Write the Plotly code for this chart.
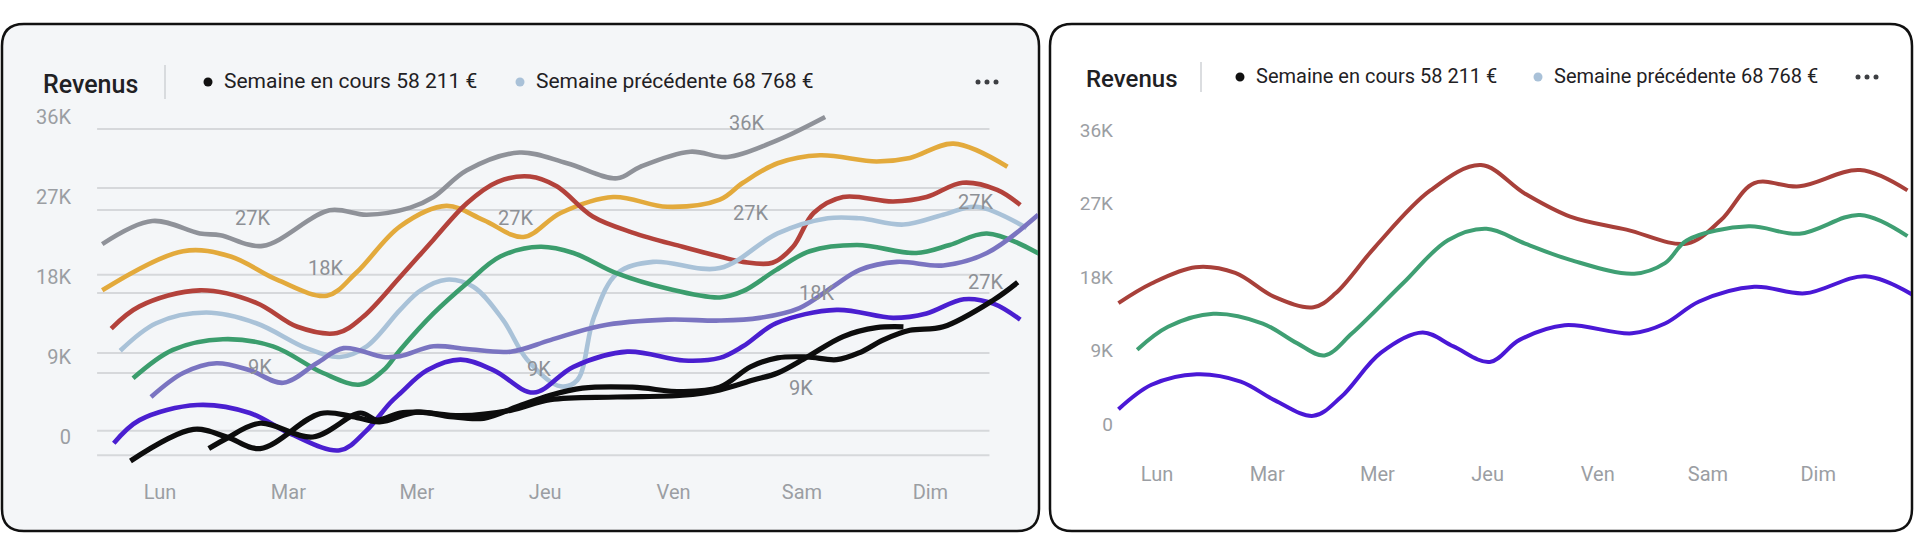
import plotly.graph_objects as go

W, H = 1915, 544

# ---------------- data ----------------
DAYS = ["Lun", "Mar", "Mer", "Jeu", "Ven", "Sam", "Dim"]
DAY_POS = [0, 1, 2, 3, 4, 5, 6]
Y_TICK_VALUES = [0, 9, 18, 27, 36]            # thousands of €
Y_TICK_LABELS = ["0", "9K", "18K", "27K", "36K"]

TITLE = "Revenus"
LEGEND_CURRENT = "Semaine en cours 58 211 €"
LEGEND_PREVIOUS = "Semaine précédente 68 768 €"

# Left panel (x = day position, 0 = Lun ; y = revenue in K€)
L_GRAY_X = [-0.45, -0.06, 0.31, 0.47, 0.80, 1.32, 1.61, 1.95, 2.13, 2.39, 2.80, 3.17, 3.56, 3.74, 4.13, 4.42, 4.81, 5.18]
L_GRAY_Y = [21.7, 24.3, 22.9, 22.7, 21.5, 25.5, 25.0, 25.8, 27.0, 30.0, 32.0, 30.8, 29.1, 30.4, 32.1, 31.5, 33.4, 36.0]

L_GOLD_X = [-0.45, 0.18, 0.55, 0.91, 1.30, 1.53, 1.87, 2.23, 2.52, 2.83, 3.12, 3.53, 3.95, 4.36, 4.54, 4.81, 5.14, 5.58, 5.84, 6.18, 6.60]
L_GOLD_Y = [16.5, 20.9, 20.3, 17.7, 15.9, 18.5, 23.7, 26.0, 24.4, 22.5, 25.2, 27.0, 25.9, 26.7, 28.6, 30.8, 31.7, 31.0, 31.4, 33.0, 30.4]

L_RED_X = [-0.38, -0.16, 0.31, 0.75, 1.07, 1.38, 1.58, 1.87, 2.13, 2.39, 2.63, 2.88, 3.09, 3.37, 3.68, 4.07, 4.36, 4.54, 4.77, 4.93, 5.09, 5.32, 5.71, 5.97, 6.25, 6.52, 6.70]
L_RED_Y = [12.2, 14.7, 16.5, 15.1, 12.4, 11.7, 13.5, 18.0, 22.2, 26.3, 28.7, 29.3, 28.2, 24.8, 23.0, 21.4, 20.3, 19.7, 19.6, 21.4, 25.2, 27.0, 26.5, 27.0, 28.6, 27.8, 26.1]

L_LIGHTBLUE_X = [-0.31, -0.03, 0.36, 0.75, 1.14, 1.40, 1.61, 1.87, 2.03, 2.23, 2.44, 2.67, 2.86, 3.12, 3.25, 3.38, 3.56, 3.84, 4.36, 4.81, 5.20, 5.45, 5.79, 6.10, 6.36, 6.75]
L_LIGHTBLUE_Y = [9.7, 12.8, 14.0, 12.8, 10.0, 9.0, 10.2, 14.3, 16.5, 17.7, 16.9, 13.2, 8.7, 5.7, 6.4, 13.5, 18.4, 19.7, 19.0, 22.9, 24.6, 24.6, 23.9, 25.0, 25.9, 23.5]

L_GREEN_X = [-0.21, 0.10, 0.49, 0.88, 1.27, 1.56, 1.74, 1.87, 2.13, 2.39, 2.65, 2.96, 3.22, 3.56, 3.95, 4.36, 4.54, 4.80, 5.06, 5.43, 5.89, 6.15, 6.44, 6.85]
L_GREEN_Y = [6.6, 9.8, 11.0, 10.2, 7.2, 5.9, 7.5, 9.8, 13.9, 17.3, 20.3, 21.4, 20.7, 18.4, 16.7, 15.7, 16.4, 18.8, 20.9, 21.6, 20.7, 21.6, 22.9, 20.6]

L_SLATE_X = [-0.07, 0.18, 0.44, 0.70, 0.96, 1.22, 1.43, 1.74, 1.87, 2.13, 2.39, 2.73, 3.04, 3.43, 3.95, 4.36, 4.67, 4.98, 5.24, 5.45, 5.74, 6.10, 6.44, 6.84]
L_SLATE_Y = [4.5, 7.2, 8.3, 7.5, 6.1, 8.3, 10.0, 9.0, 9.1, 10.2, 9.9, 9.6, 10.9, 12.5, 13.2, 13.1, 13.4, 14.5, 16.9, 18.8, 19.7, 19.3, 20.7, 25.0]

L_VIOLET_X = [-0.36, -0.16, 0.29, 0.70, 1.01, 1.40, 1.60, 1.79, 1.87, 2.08, 2.34, 2.60, 2.91, 3.22, 3.64, 4.08, 4.36, 4.54, 4.80, 5.27, 5.71, 5.97, 6.26, 6.49, 6.70]
L_VIOLET_Y = [-0.7, 1.9, 3.6, 2.7, 0.4, -1.5, 0.6, 3.8, 4.9, 7.5, 8.7, 7.5, 5.0, 7.9, 9.6, 8.6, 8.9, 10.2, 12.8, 14.3, 13.4, 13.9, 15.5, 15.0, 13.2]

L_BLACK_A_X = [-0.23, 0.26, 0.52, 0.78, 1.25, 1.50, 1.71, 2.00, 2.26, 2.52, 2.78, 3.04, 3.29, 3.68, 4.07, 4.36, 4.60, 4.81, 5.04, 5.27, 5.45, 5.63, 5.84, 6.10, 6.49, 6.68]
L_BLACK_A_Y = [-2.7, 0.85, 0.0, -1.3, 2.65, 2.3, 1.7, 2.8, 2.3, 2.1, 3.4, 4.7, 5.5, 5.6, 5.1, 5.6, 7.9, 8.9, 9.0, 8.7, 9.5, 10.9, 12.0, 12.4, 15.4, 17.4]

L_BLACK_B_X = [0.38, 0.52, 0.78, 1.19, 1.56, 1.69, 1.87, 2.03, 2.34, 2.73, 3.04, 3.56, 4.07, 4.36, 4.62, 4.81, 5.04, 5.32, 5.58, 5.79]
L_BLACK_B_Y = [-1.3, -0.15, 1.55, 0.0, 2.7, 1.9, 2.7, 2.8, 2.4, 3.0, 4.2, 4.5, 4.7, 5.3, 6.4, 7.2, 9.0, 11.3, 12.3, 12.4]

# Floating value labels inside the left chart
L_LABEL_TEXT = ["27K", "18K", "9K", "27K", "9K", "36K", "27K", "18K", "9K", "27K", "27K"]
L_LABEL_X = [0.72, 1.29, 0.78, 2.77, 2.95, 4.57, 4.60, 5.11, 4.99, 6.35, 6.43]
L_LABEL_Y = [24.6, 19.0, 7.9, 24.6, 7.6, 35.3, 25.2, 16.2, 5.5, 26.4, 17.4]

# Horizontal guide lines of the left chart (K€)
L_GRID_VALUES = [34.65, 28.0, 25.55, 18.25, 16.2, 9.45, 7.2, 0.7, -2.05]

# Right panel
R_RED_X = [-0.35, -0.05, 0.35, 0.71, 1.06, 1.42, 1.62, 1.98, 2.48, 2.94, 3.34, 3.75, 4.26, 4.81, 5.12, 5.42, 5.83, 6.38, 6.81]
R_RED_Y = [14.8, 17.2, 19.2, 18.5, 15.6, 14.3, 16.0, 21.7, 28.6, 31.7, 28.2, 25.4, 23.8, 22.1, 25.0, 29.5, 29.1, 31.1, 28.6]

R_GREEN_X = [-0.18, 0.10, 0.51, 0.96, 1.27, 1.52, 1.77, 2.23, 2.64, 2.99, 3.34, 3.75, 4.33, 4.61, 4.81, 5.37, 5.83, 6.38, 6.81]
R_GREEN_Y = [9.1, 11.9, 13.5, 12.3, 9.9, 8.4, 11.1, 17.2, 22.5, 23.9, 22.1, 20.1, 18.4, 19.7, 22.5, 24.2, 23.3, 25.6, 23.0]

R_VIOLET_X = [-0.35, -0.05, 0.36, 0.76, 1.07, 1.42, 1.67, 2.03, 2.41, 2.69, 3.02, 3.29, 3.70, 4.31, 4.61, 4.92, 5.42, 5.88, 6.43, 6.86]
R_VIOLET_Y = [1.8, 4.8, 6.1, 5.2, 2.9, 1.0, 3.3, 8.7, 11.2, 9.5, 7.6, 10.3, 12.1, 11.1, 12.3, 15.0, 16.8, 16.0, 18.1, 15.8]

# ---------------- styling ----------------
FONT = "Roboto"
TEXT_DARK = "#1f2124"
TICK_GREY = "#9b9ea3"
LABEL_GREY = "#8d9095"
GRID_COLOR = "#d6d8db"
LEFT_BG = "#f4f6f8"

def fx(px):
    return px / W

def fy(py):
    return 1 - py / H

def axis_range(p0, p1, origin_px, step_px, invert=False):
    if invert:
        return [(origin_px - p1) / step_px, (origin_px - p0) / step_px]
    return [(p0 - origin_px) / step_px, (p1 - origin_px) / step_px]

# Left plot-area geometry (pixels)
LX0, LX1, LY0, LY1 = 72, 1038, 100, 478
L_DAY0, L_DAYSTEP = 160, 128.4
L_ZERO, L_KSTEP = 437, 80 / 9
# Right plot-area geometry (pixels)
RX0, RX1, RY0, RY1 = 1114, 1911, 100, 460
R_DAY0, R_DAYSTEP = 1157, 110.2
R_ZERO, R_KSTEP = 424, 73.5 / 9

fig = go.Figure()

left_series = [
    (L_GRAY_X, L_GRAY_Y, "#8f9299", 4.6),
    (L_GOLD_X, L_GOLD_Y, "#e3aa3c", 4.6),
    (L_RED_X, L_RED_Y, "#b3423b", 4.6),
    (L_LIGHTBLUE_X, L_LIGHTBLUE_Y, "#a9c2d8", 4.6),
    (L_GREEN_X, L_GREEN_Y, "#3b9d6d", 4.6),
    (L_SLATE_X, L_SLATE_Y, "#7a74c1", 4.6),
    (L_VIOLET_X, L_VIOLET_Y, "#4a1fd0", 4.6),
    (L_BLACK_B_X, L_BLACK_B_Y, "#0d0d0d", 5.2),
    (L_BLACK_A_X, L_BLACK_A_Y, "#0d0d0d", 5.2),
]
for xs, ys, col, wid in left_series:
    fig.add_trace(go.Scatter(x=xs, y=ys, mode="lines", xaxis="x", yaxis="y",
                             line=dict(color=col, width=wid, shape="spline", smoothing=1.0),
                             hoverinfo="skip", showlegend=False))

right_series = [
    (R_RED_X, R_RED_Y, "#a8403a"),
    (R_GREEN_X, R_GREEN_Y, "#3f9f73"),
    (R_VIOLET_X, R_VIOLET_Y, "#4a18d6"),
]
for xs, ys, col in right_series:
    fig.add_trace(go.Scatter(x=xs, y=ys, mode="lines", xaxis="x2", yaxis="y2",
                             line=dict(color=col, width=4, shape="spline", smoothing=1.0),
                             hoverinfo="skip", showlegend=False))

def rounded(x0, y0, x1, y1, r):
    def p(x, y):
        return f"{fx(x):.6f},{fy(y):.6f}"
    return (f"M {p(x0 + r, y0)} L {p(x1 - r, y0)} Q {p(x1, y0)} {p(x1, y0 + r)} "
            f"L {p(x1, y1 - r)} Q {p(x1, y1)} {p(x1 - r, y1)} L {p(x0 + r, y1)} "
            f"Q {p(x0, y1)} {p(x0, y1 - r)} L {p(x0, y0 + r)} Q {p(x0, y0)} {p(x0 + r, y0)} Z")

shapes = [
    dict(type="path", xref="paper", yref="paper", path=rounded(2, 24, 1039, 531, 22),
         fillcolor=LEFT_BG, line=dict(color="#111111", width=2.5), layer="below"),
    dict(type="path", xref="paper", yref="paper", path=rounded(1050, 24, 1912, 531, 22),
         fillcolor="#ffffff", line=dict(color="#111111", width=2.5), layer="below"),
]
for g in L_GRID_VALUES:
    shapes.append(dict(type="line", xref="x", yref="y", x0=-0.49, x1=6.46, y0=g, y1=g,
                       line=dict(color=GRID_COLOR, width=2), layer="below"))

annotations = []

def header(title_x, title_y, sep_x, sep_y0, sep_y1, dot1_x, text1_x, dot2_x, text2_x, row_y,
           more_x, title_size, text_size):
    annotations.append(dict(xref="paper", yref="paper", x=fx(title_x), y=fy(title_y),
                            xanchor="left", yanchor="middle", showarrow=False, text=TITLE,
                            font=dict(family=FONT, size=title_size, color=TEXT_DARK, weight=500)))
    shapes.append(dict(type="line", xref="paper", yref="paper", x0=fx(sep_x), x1=fx(sep_x),
                       y0=fy(sep_y0), y1=fy(sep_y1), line=dict(color="#cfd2d6", width=1.5)))
    for dx, tx, txt, col in ((dot1_x, text1_x, LEGEND_CURRENT, "#111111"),
                             (dot2_x, text2_x, LEGEND_PREVIOUS, "#a9c1d8")):
        shapes.append(dict(type="circle", xref="paper", yref="paper",
                           x0=fx(dx - 4.5), x1=fx(dx + 4.5), y0=fy(row_y - 4.5), y1=fy(row_y + 4.5),
                           fillcolor=col, line=dict(width=0)))
        annotations.append(dict(xref="paper", yref="paper", x=fx(tx), y=fy(row_y - 1),
                                xanchor="left", yanchor="middle", showarrow=False, text=txt,
                                font=dict(family=FONT, size=text_size, color=TEXT_DARK)))
    for k in (-9, 0, 9):
        shapes.append(dict(type="circle", xref="paper", yref="paper",
                           x0=fx(more_x + k - 2.5), x1=fx(more_x + k + 2.5),
                           y0=fy(row_y - 2.5), y1=fy(row_y + 2.5),
                           fillcolor="#3d3f43", line=dict(width=0)))

header(41, 84, 165, 65, 99, 208, 222, 520, 534, 82, 987, 25, 21)
header(1084, 79, 1201, 62, 92, 1240, 1254, 1538, 1552, 77, 1867, 24, 20)

for t, x, y in zip(L_LABEL_TEXT, L_LABEL_X, L_LABEL_Y):
    annotations.append(dict(xref="x", yref="y", x=x, y=y, text=t, showarrow=False,
                            xanchor="center", yanchor="middle",
                            font=dict(family=FONT, size=20, color=LABEL_GREY)))

common_x = dict(tickmode="array", tickvals=DAY_POS, ticktext=DAYS, showgrid=False,
                zeroline=False, showline=False, ticks="", fixedrange=True)
common_y = dict(tickmode="array", tickvals=Y_TICK_VALUES, ticktext=Y_TICK_LABELS, showgrid=False,
                zeroline=False, showline=False, ticks="", fixedrange=True)

fig.update_layout(
    width=W, height=H, margin=dict(l=0, r=0, t=0, b=0),
    paper_bgcolor="#ffffff", plot_bgcolor="rgba(0,0,0,0)",
    font=dict(family=FONT),
    xaxis=dict(domain=[fx(LX0), fx(LX1)], range=axis_range(LX0, LX1, L_DAY0, L_DAYSTEP),
               tickfont=dict(size=20, color=TICK_GREY), anchor="y", **common_x),
    yaxis=dict(domain=[fy(LY1), fy(LY0)], range=axis_range(LY0, LY1, L_ZERO, L_KSTEP, invert=True),
               tickfont=dict(size=20, color=TICK_GREY), anchor="x", **common_y),
    xaxis2=dict(domain=[fx(RX0), fx(RX1)], range=axis_range(RX0, RX1, R_DAY0, R_DAYSTEP),
                tickfont=dict(size=20, color=TICK_GREY), anchor="y2", **common_x),
    yaxis2=dict(domain=[fy(RY1), fy(RY0)], range=axis_range(RY0, RY1, R_ZERO, R_KSTEP, invert=True),
                tickfont=dict(size=19, color=TICK_GREY), anchor="x2", **common_y),
    shapes=shapes,
    annotations=annotations,
)

fig.write_html("out.html")
